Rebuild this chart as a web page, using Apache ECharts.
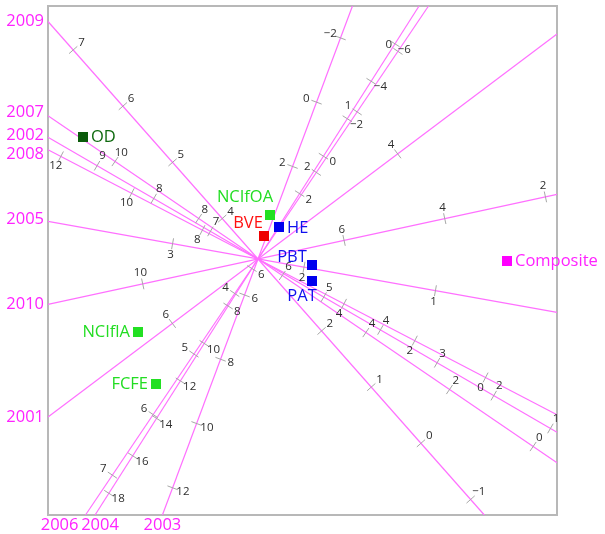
<!DOCTYPE html>
<html>
<head>
<meta charset="utf-8">
<script src="https://cdn.jsdelivr.net/npm/echarts@6/dist/echarts.min.js"></script>
<style>
html,body{margin:0;padding:0;background:#fff;}
#c{width:605px;height:534px;}
</style>
</head>
<body>
<div id="c"></div>
<script>
// ---- data: biplot axes (years) ----
const years = ['2009','2007','2002','2008','2005','2010','2001','2006','2004','2003'];
// direction vector of each year axis (toward its labelled end)
const vecX = [-4.35,-5.09,-5.09,-5.09,-5.09,-5.09,-5.09,-3.43,-3.24,-1.90];
const vecY = [ 4.92, 3.47, 2.95, 2.65, 0.91,-1.10,-3.83,-5.09,-5.09,-5.09];
// axis calibration: value at origin and plot length of one unit
const valueAtOrigin = [3.28,6.58,6.16,6.43,2.35,7.71,5.24,3.43,5.49,4.88];
const lengthPerUnit = [0.75,0.506,0.655,0.399,1.335,0.515,1.41,0.73,0.222,0.343];
const tickValues = [
  [-1,0,1,2,4,5,6,7],
  [0,2,4,6,8,10],
  [1,2,3,4,5,7,8,9],
  [0,2,4,8,10,12],
  [1,2,3],
  [2,4,6,10],
  [4,6],
  [0,1,2,4,5,6,7],
  [-6,-4,-2,0,2,6,8,10,12,14,16,18],
  [-2,0,2,6,8,10,12]
];
// ---- data: points ----
const pointNames = ['OD','NCIfOA','BVE','HE','PBT','PAT','Composite','NCIflA','FCFE'];
const pointX = [-1.75,0.12,0.06,0.21,0.54,0.54,2.49,-1.20,-1.02];
const pointY = [ 1.22,0.44,0.23,0.32,-0.06,-0.22,-0.02,-0.73,-1.25];

// ---- layout / style (kept separate from data) ----
const labelSideLow  = [1,1,1,-1,-1,1,1,1,-1,1];
const labelSideHigh = [1,1,1,-1,-1,1,1,1,-1,-1];
const yearAlign = ['right','right','right','right','right','right','right','right','center','center'];
const yearDx = [-4,-4,-4,-4,-4,-4,-4,-7,5,0];
const yearDy = [0,-4,-2,5,-2,0,0,10,10,10];
const pointColor = ['#0a5a0a','#22e022','#ee0000','#0000ee','#0000ee','#0000ee','#ff00ff','#22e022','#22e022'];
const labelColor = ['#0f6a0f','#22dd22','#ff1010','#1010ee','#1010ee','#1010ee','#ff22ff','#22dd22','#22dd22'];
const labelPos = ['right','inside','inside','right','inside','inside','right','left','left'];
const labelOffset = [[0,0],[-25,-18],[-16,-13],[0,1],[-20,-8],[-10,15],[0,0],[0,0],[0,0]];

const XMIN=-2.10, XMAX=2.99, YMIN=-2.56, YMAX=2.53;
const LINE_COLOR='#ff70ff', YEAR_COLOR='#ff22ff';
const FONT='"Open Sans", "Liberation Sans", sans-serif';

function unit(i){const l=Math.hypot(vecX[i],vecY[i]);return [vecX[i]/l,vecY[i]/l];}
function hitT(ux,uy){ // distance to the frame along (ux,uy)
  const tx = ux>0 ? XMAX/ux : (ux<0 ? XMIN/ux : Infinity);
  const ty = uy>0 ? YMAX/uy : (uy<0 ? YMIN/uy : Infinity);
  return Math.min(tx,ty);
}

const series=[];
const yearEnds=[];
years.forEach((y,i)=>{
  const [ux,uy]=unit(i);
  const tp=hitT(ux,uy), tn=hitT(-ux,-uy);
  yearEnds.push([ux*tp,uy*tp]);
  series.push({type:'line',silent:true,symbol:'none',z:2,
    lineStyle:{color:LINE_COLOR,width:1.2},
    data:[[-ux*tn,-uy*tn],[ux*tp,uy*tp]],animation:false});
});

// ticks
const tickData=[], tickText=[];
years.forEach((y,i)=>{
  const [ux,uy]=unit(i);
  tickValues[i].forEach(v=>{
    const t=(v-valueAtOrigin[i])*lengthPerUnit[i];
    const side = v<valueAtOrigin[i] ? labelSideLow[i] : labelSideHigh[i];
    // screen normal (y down): (uy, ux)
    tickData.push([ux*t,uy*t,uy,ux,side]);
    tickText.push(v<0 ? '\u2212'+Math.abs(v) : String(v));
  });
});
series.push({type:'custom',coordinateSystem:'cartesian2d',z:3,silent:true,animation:false,
  data:tickData,
  renderItem:(params,api)=>{
    const p=api.coord([api.value(0),api.value(1)]);
    const nx=api.value(2), ny=api.value(3), s=api.value(4);
    return {type:'group',children:[
      {type:'line',shape:{x1:p[0]-nx*5.5,y1:p[1]-ny*5.5,x2:p[0]+nx*5.5,y2:p[1]+ny*5.5},
        style:{stroke:'#a8a8a8',lineWidth:1}},
      {type:'text',x:p[0]+s*nx*11,y:p[1]+s*ny*11,
        style:{text:tickText[params.dataIndex],fill:'#2e2e2e',font:'11.5px '+FONT,align:'center',verticalAlign:'middle'}}
    ]};
  }
});

// year labels
series.push({type:'custom',coordinateSystem:'cartesian2d',z:4,silent:true,animation:false,
  data:yearEnds,
  renderItem:(params,api)=>{
    const i=params.dataIndex;
    const p=api.coord([api.value(0),api.value(1)]);
    return {type:'text',x:p[0]+yearDx[i],y:p[1]+yearDy[i],
      style:{text:years[i],fill:YEAR_COLOR,font:'16.5px '+FONT,align:yearAlign[i],verticalAlign:'middle'}};
  }
});

// points
series.push({type:'scatter',z:5,symbol:'rect',symbolSize:10,silent:true,animation:false,
  data:pointNames.map((n,i)=>({
    name:n,value:[pointX[i],pointY[i]],
    itemStyle:{color:pointColor[i],opacity:1},
    label:{show:true,formatter:n,position:labelPos[i],offset:labelOffset[i],distance:3,
      color:labelColor[i],fontSize:16.5,fontFamily:FONT,opacity:1}
  }))
});

const chart=echarts.init(document.getElementById('c'),null,{renderer:'canvas'});
chart.setOption({
  animation:false,
  backgroundColor:'#ffffff',
  grid:{left:48,top:6,width:509,height:509,show:true,borderColor:'#b8b8b8',borderWidth:2,backgroundColor:'transparent'},
  xAxis:{type:'value',min:XMIN,max:XMAX,show:false},
  yAxis:{type:'value',min:YMIN,max:YMAX,show:false},
  series:series
});
</script>
</body>
</html>
